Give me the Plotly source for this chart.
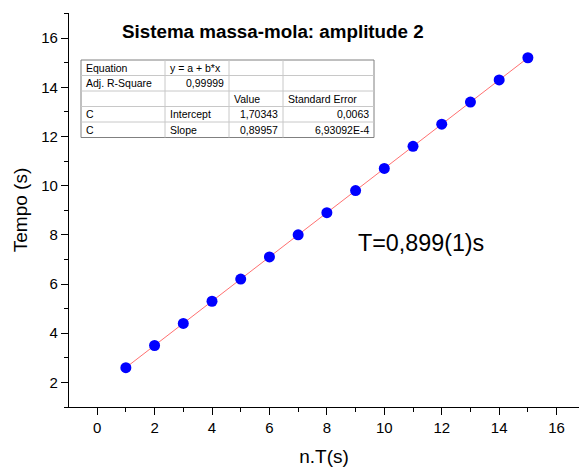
import plotly.graph_objects as go

# ---- data ----
n_T = [1, 2, 3, 4, 5, 6, 7, 8, 9, 10, 11, 12, 13, 14, 15]
tempo = [2.60, 3.50, 4.40, 5.30, 6.20, 7.10, 8.00, 8.90, 9.80, 10.70, 11.60, 12.50, 13.40, 14.30, 15.20]
intercept = 1.70343
slope = 0.89957
fit_x = [1, 15]
fit_y = [intercept + slope * v for v in fit_x]

table_rows = [
    ["Equation", "y = a + b*x", "", ""],
    ["Adj. R-Square", "0,99999", "", ""],
    ["", "", "Value", "Standard Error"],
    ["C", "Intercept", "1,70343", "0,0063"],
    ["C", "Slope", "0,89957", "6,93092E-4"],
]
x_ticks = [0, 2, 4, 6, 8, 10, 12, 14, 16]
y_ticks = [2, 4, 6, 8, 10, 12, 14, 16]

W, H = 579, 468
ML, MR, MT, MB = 69, 0, 13, 61
PW, PH = W - ML - MR, H - MT - MB

def px(x):
    return (x - ML) / PW

def py(y):
    return (H - MB - y) / PH

FONT = "Arial, Liberation Sans, sans-serif"

fig = go.Figure()
fig.add_trace(go.Scatter(x=fit_x, y=fit_y, mode="lines",
                         line=dict(color="#ff7070", width=1), showlegend=False))
fig.add_trace(go.Scatter(x=n_T, y=tempo, mode="markers",
                         marker=dict(color="#0000ff", size=11), showlegend=False))

shapes = []
annotations = []

# table
col_edges = [81, 165, 229, 283, 374]
row_edges = [60, 75.5, 91, 106.5, 122, 137.5]
shapes.append(dict(type="rect", xref="paper", yref="paper",
                   x0=px(col_edges[0]), x1=px(col_edges[-1]),
                   y0=py(row_edges[0]), y1=py(row_edges[-1]),
                   line=dict(color="#808080", width=1), fillcolor="white", layer="above"))
for c in col_edges[1:-1]:
    shapes.append(dict(type="line", xref="paper", yref="paper",
                       x0=px(c), x1=px(c), y0=py(row_edges[0]), y1=py(row_edges[-1]),
                       line=dict(color="#c8c8c8", width=1), layer="above"))
for r in row_edges[1:-1]:
    shapes.append(dict(type="line", xref="paper", yref="paper",
                       x0=px(col_edges[0]), x1=px(col_edges[-1]), y0=py(r), y1=py(r),
                       line=dict(color="#c8c8c8", width=1), layer="above"))

def is_num(s):
    return len(s) > 0 and s[0].isdigit()

for i, row in enumerate(table_rows):
    yc = (row_edges[i] + row_edges[i + 1]) / 2
    for j, txt in enumerate(row):
        if not txt:
            continue
        if is_num(txt):
            annotations.append(dict(text=txt, xref="paper", yref="paper",
                                    x=px(col_edges[j + 1] - 3), y=py(yc),
                                    xanchor="right", yanchor="middle", showarrow=False,
                                    font=dict(family=FONT, size=10.5, color="black")))
        else:
            annotations.append(dict(text=txt, xref="paper", yref="paper",
                                    x=px(col_edges[j] + 3), y=py(yc),
                                    xanchor="left", yanchor="middle", showarrow=False,
                                    font=dict(family=FONT, size=10.5, color="black")))

annotations.append(dict(text="<b>Sistema massa-mola: amplitude 2</b>", xref="paper", yref="paper",
                        x=px(273), y=py(32), xanchor="center", yanchor="middle", showarrow=False,
                        font=dict(family=FONT, size=18.8, color="black")))
annotations.append(dict(text="T=0,899(1)s", xref="paper", yref="paper",
                        x=px(421), y=py(243), xanchor="center", yanchor="middle", showarrow=False,
                        font=dict(family=FONT, size=23.3, color="black")))

fig.update_layout(
    width=W, height=H,
    margin=dict(l=ML, r=MR, t=MT, b=MB),
    paper_bgcolor="white", plot_bgcolor="white",
    font=dict(family=FONT, color="black"),
    shapes=shapes, annotations=annotations,
    showlegend=False,
)
fig.update_xaxes(range=[-0.98, 16.78], tickvals=x_ticks, ticks="outside", ticklen=7, tickwidth=1.2,
                 tickcolor="black", showline=True, linecolor="black", linewidth=1.3,
                 showgrid=False, zeroline=False, tickfont=dict(size=15),
                 minor=dict(dtick=1, tick0=0, ticks="outside", ticklen=4, tickcolor="black", showgrid=False),
                 title=dict(text="n.T(s)", font=dict(size=19), standoff=14))
fig.update_yaxes(range=[1.0, 17.02], tickvals=y_ticks, ticks="outside", ticklen=7, tickwidth=1.2,
                 tickcolor="black", showline=True, linecolor="black", linewidth=1.3,
                 showgrid=False, zeroline=False, tickfont=dict(size=15),
                 minor=dict(dtick=1, tick0=0, ticks="outside", ticklen=4, tickcolor="black", showgrid=False),
                 title=dict(text="Tempo (s)", font=dict(size=19), standoff=8))

fig.write_html("out.html")
